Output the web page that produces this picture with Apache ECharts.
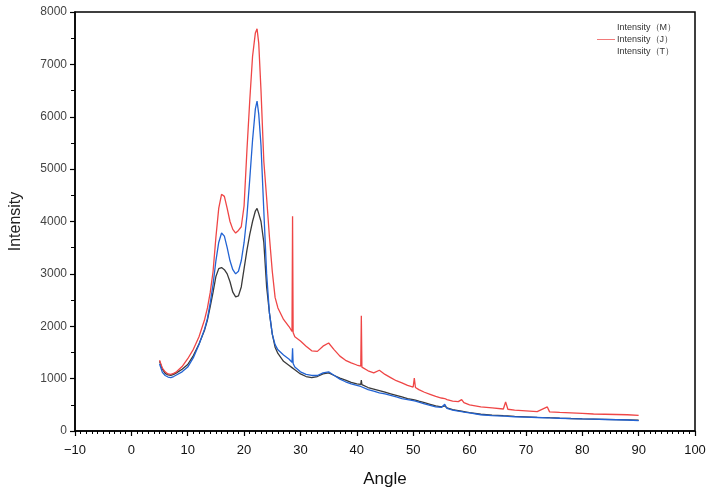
<!DOCTYPE html>
<html>
<head>
<meta charset="utf-8">
<script src="https://cdn.jsdelivr.net/npm/echarts@6/dist/echarts.min.js"></script>
<style>
html, body { margin: 0; padding: 0; background: #fff; }
#container { width: 711px; height: 493px; }
</style>
</head>
<body>
<div id="container"></div>
<script>
// diffraction angle (2θ) sample points
let angles = [5,5.5,6,6.5,7,7.5,8,9,10,11,12,13,13.5,14,14.5,15,15.5,16,16.5,17,17.5,18,18.5,19,19.5,20,20.5,21,21.5,22,22.3,22.6,23,23.5,24,24.5,25,25.5,26,27,28,28.5,28.6,28.7,29,30,31,32,33,34,35,36,37,38,39,40,40.7,40.8,40.9,42,43,44,45,46,47,48,49,50,50.2,50.4,51,52,53,54,55,55.6,56,57,58,58.6,59,60,62,64,66,66.4,66.8,68,70,72,73.8,74.2,76,78,80,82,84,86,88,90];

let intensityM = [1330,1180,1100,1070,1060,1080,1110,1180,1270,1440,1660,1930,2120,2380,2650,2950,3100,3120,3080,3000,2850,2650,2560,2580,2750,3100,3450,3750,4000,4200,4250,4150,4000,3600,2750,2250,1850,1600,1480,1330,1250,1210,1210,1200,1170,1090,1040,1020,1040,1090,1110,1060,1010,970,930,900,890,970,885,830,800,770,740,710,680,650,620,600,595,590,570,540,510,480,460,480,440,410,390,378,370,350,320,305,292,290,288,278,270,262,256,254,246,239,233,228,223,218,213,205];

let intensityJ = [1350,1200,1130,1090,1080,1100,1130,1230,1380,1560,1800,2130,2350,2650,3050,3700,4250,4520,4480,4250,4000,3850,3780,3830,3900,4300,5350,6300,7150,7600,7680,7400,6500,5150,4450,3700,3050,2550,2350,2130,1990,1900,4100,1880,1800,1720,1620,1530,1520,1620,1680,1550,1430,1350,1300,1260,1240,2200,1220,1150,1110,1160,1080,1020,960,920,870,840,1010,830,790,740,700,660,630,620,600,570,560,600,540,500,460,440,420,555,415,400,385,370,460,365,355,345,335,325,320,315,310,300];

let intensityT = [1280,1120,1060,1030,1020,1040,1070,1130,1220,1400,1650,1950,2150,2450,2800,3250,3600,3780,3720,3500,3250,3080,3000,3050,3250,3600,4100,4800,5550,6150,6300,6050,5450,4200,3000,2250,1850,1650,1550,1450,1370,1310,1580,1290,1220,1130,1080,1060,1060,1110,1130,1060,990,940,900,870,850,850,845,790,760,730,710,680,650,620,600,580,575,570,550,520,490,460,450,510,430,400,380,370,360,345,310,295,285,283,280,272,265,258,252,250,243,236,230,225,220,215,210,200];

let xTicks = [-10, 100, 10];
let yTicks = [0, 8000, 1000];

function pairs(ys) {
    return angles.map(function (a, i) { return [a, ys[i]]; });
}

let dom = document.getElementById("container");
let myChart = echarts.init(dom);
let option = {
    animation: false,
    backgroundColor: '#fff',
    legend: {
        right: 30,
        top: 18,
        orient: 'vertical',
        itemGap: 3,
        itemWidth: 18,
        itemHeight: 1,
        icon: 'rect',
        textStyle: { fontSize: 9, color: '#333', fontFamily: 'Liberation Sans', padding: [0, 0, 0, -3] },
        data: [
            { name: 'Intensity（M）', itemStyle: { opacity: 0 } },
            { name: 'Intensity（J）', itemStyle: { color: '#f27a7a' } },
            { name: 'Intensity（T）', itemStyle: { opacity: 0 } }
        ]
    },
    grid: {
        left: 70,
        right: 16,
        top: 12,
        bottom: 62,
        show: true,
        borderColor: '#000',
        borderWidth: 1.5
    },
    xAxis: {
        type: 'value',
        min: xTicks[0],
        max: xTicks[1],
        interval: xTicks[2],
        name: 'Angle',
        nameLocation: 'middle',
        nameGap: 40,
        nameTextStyle: { fontSize: 17, color: '#111', fontFamily: 'Liberation Sans' },
        axisLine: { show: true, onZero: false, lineStyle: { color: '#000', width: 1.5 } },
        axisTick: { show: true, inside: false, length: 5, lineStyle: { color: '#000', width: 1.2 } },
        minorTick: { show: true, splitNumber: 10, length: 3, lineStyle: { color: '#000', width: 1 } },
        axisLabel: {
            fontSize: 13, color: '#111', margin: 13, fontFamily: 'Liberation Sans',
            formatter: function (v) { return v < 0 ? '\u2212' + Math.abs(v) : String(v); }
        },
        splitLine: { show: false }
    },
    yAxis: {
        type: 'value',
        min: yTicks[0],
        max: yTicks[1],
        interval: yTicks[2],
        name: 'Intensity',
        nameLocation: 'middle',
        nameGap: 51,
        nameTextStyle: { fontSize: 16, color: '#222', fontFamily: 'Liberation Sans' },
        axisLine: { show: true, onZero: false, lineStyle: { color: '#000', width: 1.5 } },
        axisTick: { show: true, inside: false, length: 5, lineStyle: { color: '#000', width: 1.2 } },
        minorTick: { show: true, splitNumber: 2, length: 4, lineStyle: { color: '#000', width: 1 } },
        axisLabel: {
            fontSize: 12, color: '#444', margin: 8, fontFamily: 'Liberation Sans',
            formatter: function (v) { return String(v); }
        },
        splitLine: { show: false }
    },
    series: [
        {
            name: 'Intensity（M）',
            type: 'line',
            showSymbol: false,
            data: pairs(intensityM),
            lineStyle: { color: '#3a3a3a', width: 1.3 },
            itemStyle: { color: '#3a3a3a' },
            z: 2
        },
        {
            name: 'Intensity（J）',
            type: 'line',
            showSymbol: false,
            data: pairs(intensityJ),
            lineStyle: { color: '#ef4646', width: 1.3 },
            itemStyle: { color: '#ef4646' },
            z: 3
        },
        {
            name: 'Intensity（T）',
            type: 'line',
            showSymbol: false,
            data: pairs(intensityT),
            lineStyle: { color: '#2263d3', width: 1.3 },
            itemStyle: { color: '#2263d3' },
            z: 4
        }
    ]
};
myChart.setOption(option, true);
</script>
</body>
</html>
